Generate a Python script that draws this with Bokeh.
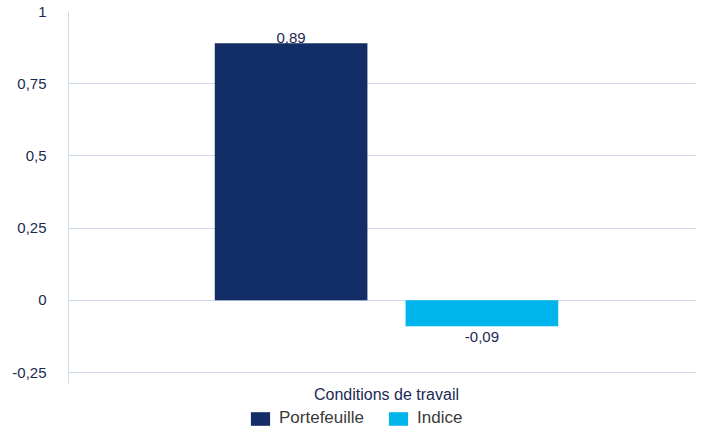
from bokeh.plotting import figure
from bokeh.layouts import column
from bokeh.models import (ColumnDataSource, Range1d, FixedTicker,
                          CustomJSTickFormatter, Legend, LegendItem)
from bokeh.transform import dodge
from bokeh.core.properties import value
from bokeh.embed import file_html
from bokeh.resources import INLINE

categories = ["Conditions de travail"]
series = ["Portefeuille", "Indice"]
portefeuille = [0.89]
indice = [-0.09]
y_ticks = [-0.25, 0, 0.25, 0.5, 0.75, 1]
colors = ["#132e66", "#00b5eb"]

FONT = "Liberation Sans"
TEXT_COLOR = "#1b2a52"
GRID = "#cdd8e8"

cat_x = [i + 0.5 for i in range(len(categories))]

p = figure(width=696, height=405, output_backend="svg", toolbar_location=None,
           x_range=Range1d(0, 628 / 636), y_range=Range1d(-0.288, 1.0))
p.min_border_top = 11
p.min_border_left = 68
p.min_border_right = 0
p.min_border_bottom = 22
p.outline_line_color = None
p.background_fill_color = "white"

offsets = [-0.15, 0.15]
sources = []
for name, vals, col, off in zip(series, [portefeuille, indice], colors, offsets):
    src = ColumnDataSource(dict(
        x=cat_x, val=vals,
        lab=[("%.2f" % v).replace(".", ",") for v in vals],
    ))
    sources.append(src)
    p.vbar(x=dodge("x", off), top="val", bottom=0, width=0.24,
           source=src, fill_color=col, line_color=None)
    pos = vals[0] >= 0
    p.text(x=dodge("x", off), y="val", text="lab", source=src,
           text_font=value(FONT), text_font_size="15px", text_color=TEXT_COLOR,
           text_align="center", text_baseline="bottom" if pos else "top",
           y_offset=0 if pos else 6)

p.yaxis.ticker = FixedTicker(ticks=y_ticks)
p.yaxis.formatter = CustomJSTickFormatter(code="return tick.toString().replace('.', ',');")
p.yaxis.axis_line_color = GRID
p.yaxis.major_tick_line_color = None
p.yaxis.minor_tick_line_color = None
p.yaxis.major_label_text_font = FONT
p.yaxis.major_label_text_font_size = "15px"
p.yaxis.major_label_text_color = TEXT_COLOR
p.yaxis.major_label_standoff = 16

p.xaxis.ticker = FixedTicker(ticks=cat_x)
p.xaxis.major_label_overrides = {x: c for x, c in zip(cat_x, categories)}
p.xaxis.axis_line_color = None
p.xaxis.major_tick_line_color = None
p.xaxis.minor_tick_line_color = None
p.xaxis.major_label_text_font = FONT
p.xaxis.major_label_text_font_size = "16px"
p.xaxis.major_label_text_color = TEXT_COLOR
p.xaxis.major_label_standoff = -4

p.xgrid.grid_line_color = None
p.ygrid.grid_line_color = GRID
p.ygrid.ticker = FixedTicker(ticks=y_ticks)

# legend strip (its frame is aligned with the main frame by the column layout)
q = figure(width=696, height=23, output_backend="svg", toolbar_location=None,
           x_range=Range1d(0, 696), y_range=Range1d(0, 23),
           x_axis_type=None, y_axis_type=None)
q.min_border = 0
q.outline_line_color = None
q.grid.grid_line_color = None
# zero-width bars: only their legend swatches are visible
leg_renderers = [q.vbar(x="x", top="val", width=0, source=s, fill_color=c, line_color=None)
                 for s, c in zip(sources, colors)]

legend = Legend(items=[LegendItem(label=s, renderers=[r]) for s, r in zip(series, leg_renderers)],
                orientation="horizontal", location=(180, 0))
legend.glyph_width = 24
legend.glyph_height = 17
legend.label_height = 17
legend.label_text_font = FONT
legend.label_text_font_size = "17px"
legend.label_text_color = "#3a3a3a"
legend.label_standoff = 7
legend.spacing = 22
legend.padding = 0
legend.margin = 0
legend.border_line_color = None
legend.background_fill_alpha = 0
q.add_layout(legend, "center")

layout = column(p, q, spacing=0)
open("out.html", "w").write(file_html(layout, INLINE))
